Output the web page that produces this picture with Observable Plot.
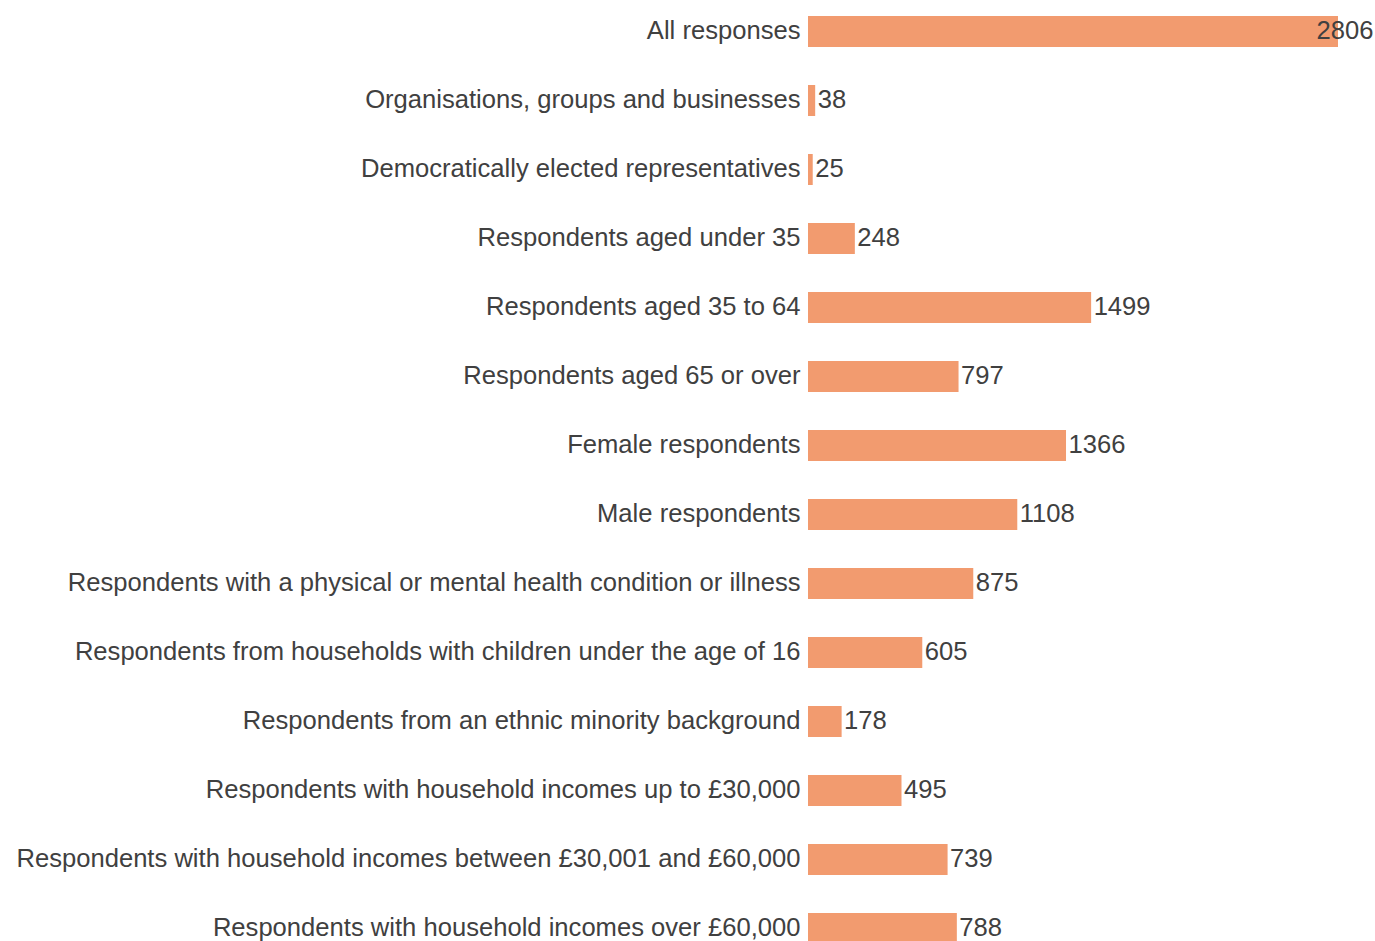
<!DOCTYPE html>
<html>
<head>
<meta charset="utf-8">
<script src="https://cdn.jsdelivr.net/npm/d3@7"></script>
<script src="https://cdn.jsdelivr.net/npm/@observablehq/plot@0.6"></script>
<style>
  html, body { margin: 0; padding: 0; background: #fff; }
  #chart svg { display: block; }
</style>
</head>
<body>
<div id="chart"></div>
<script>
const categories = [
  "All responses",
  "Organisations, groups and businesses",
  "Democratically elected representatives",
  "Respondents aged under 35",
  "Respondents aged 35 to 64",
  "Respondents aged 65 or over",
  "Female respondents",
  "Male respondents",
  "Respondents with a physical or mental health condition or illness",
  "Respondents from households with children under the age of 16",
  "Respondents from an ethnic minority background",
  "Respondents with household incomes up to £30,000",
  "Respondents with household incomes between £30,001 and £60,000",
  "Respondents with household incomes over £60,000"
];
const values = [2806, 38, 25, 248, 1499, 797, 1366, 1108, 875, 605, 178, 495, 739, 788];

const data = categories.map((c, i) => ({category: c, value: values[i]}));
const maxVal = d3.max(values);
const inside = data.filter(d => d.value === maxVal);
const outside = data.filter(d => d.value !== maxVal);

const FS = 25.6;
const chart = Plot.plot({
  width: 1375,
  height: 941,
  marginLeft: 808,
  marginRight: 37,
  marginTop: 0,
  marginBottom: 0,
  style: {fontFamily: "'Liberation Sans', Arial, sans-serif", fontSize: FS + "px", color: "#404040", background: "#fff"},
  x: {domain: [0, maxVal], axis: null},
  y: {domain: categories, range: [14.4, 945.5], paddingInner: 0.55, paddingOuter: 0, label: null},
  marks: [
    Plot.barX(data, {x: "value", y: "category", fill: "#F29B6F"}),
    Plot.axisY({tickSize: 0, tickPadding: 8, fontSize: FS, fill: "#404040", label: null, dy: -1}),
    Plot.text(outside, {x: "value", y: "category", text: d => String(d.value), textAnchor: "start", dx: 2, dy: -1, fontSize: FS, fill: "#404040"}),
    Plot.text(inside, {x: "value", y: "category", text: d => String(d.value), textAnchor: "end", dx: 35, dy: -1, fontSize: FS, fill: "#404040"})
  ]
});
document.getElementById("chart").appendChild(chart);
</script>
</body>
</html>
